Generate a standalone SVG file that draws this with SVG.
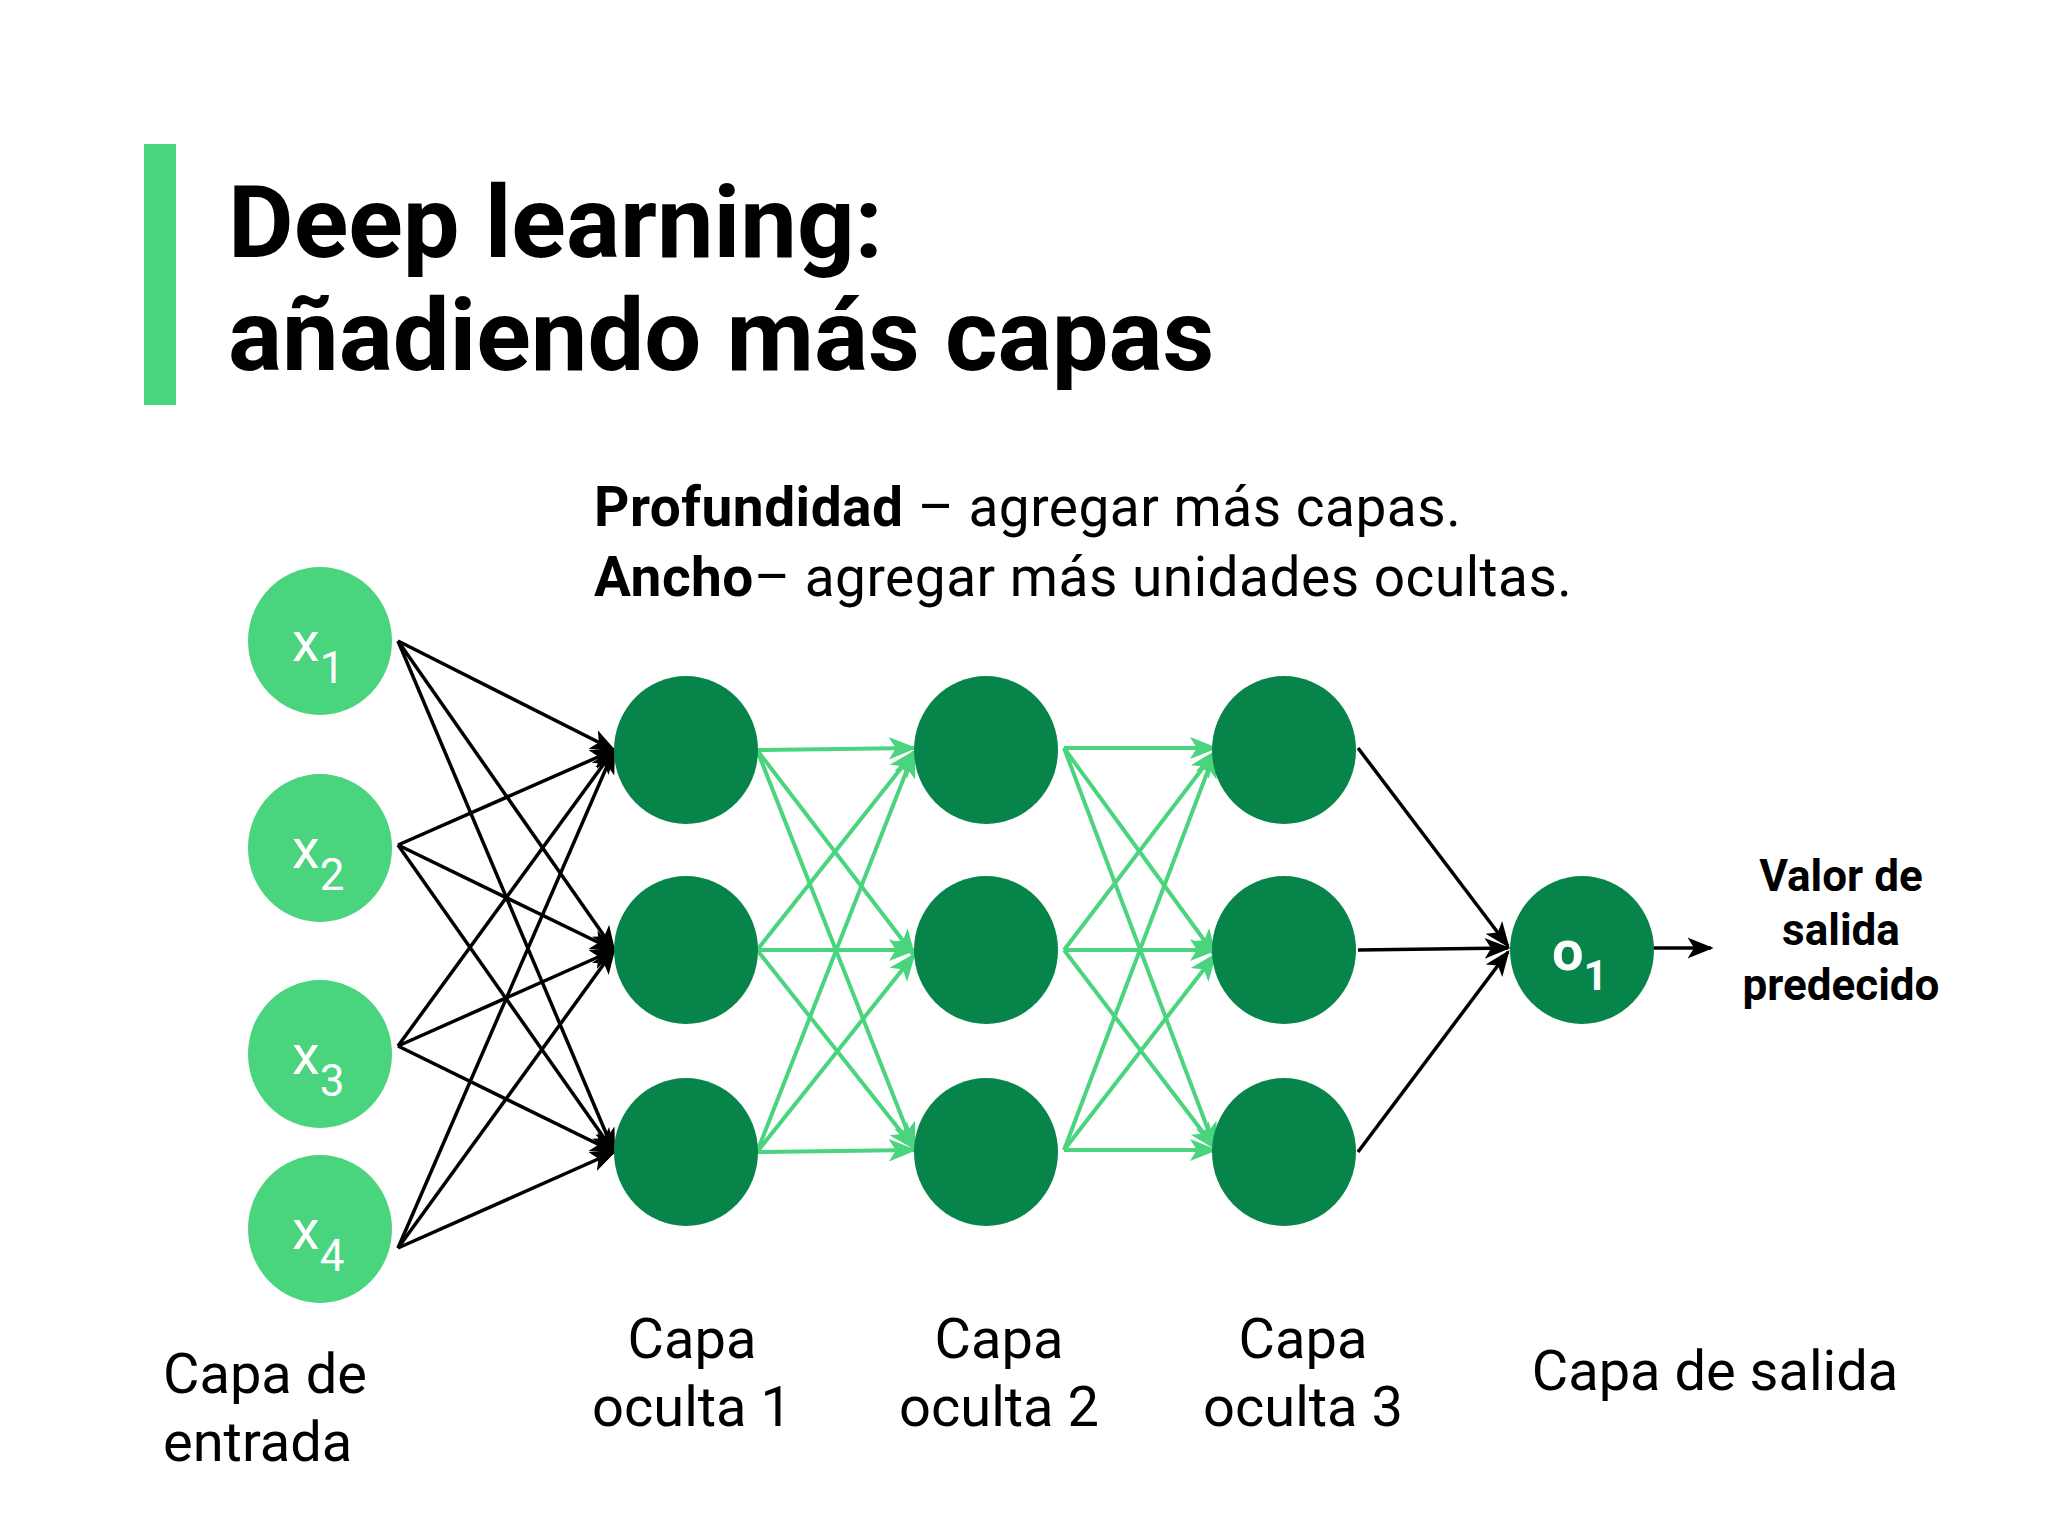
<svg xmlns="http://www.w3.org/2000/svg" width="2048" height="1536" viewBox="0 0 2048 1536">
<defs>
<marker id="abk" viewBox="0 0 10 10" refX="9" refY="5" markerWidth="26" markerHeight="26" markerUnits="userSpaceOnUse" orient="auto"><path d="M0,1L10,5L0,9L2.5,5z" fill="#000"/></marker>
<marker id="agk" viewBox="0 0 10 10" refX="9" refY="5" markerWidth="28" markerHeight="28" markerUnits="userSpaceOnUse" orient="auto"><path d="M0,1L10,5L0,9L2.5,5z" fill="#4ad47e"/></marker>
</defs>
<style>
text{font-family:Roboto,"Liberation Sans",sans-serif}
.in{fill:#4ad47e}.hd{fill:#06844a}
.t{font-size:101px;font-weight:bold;fill:#000}
.s{font-size:55px;fill:#000;letter-spacing:0.5px}
.l{font-size:56px;fill:#000}
.v{font-size:44px;font-weight:bold;fill:#000;text-anchor:middle}
.n{font-size:56px;fill:#fff}
.bk{stroke:#000;stroke-width:3.5;fill:none;marker-end:url(#abk)}
.gr{stroke:#4ad47e;stroke-width:4;fill:none;marker-end:url(#agk)}
</style>
<rect width="2048" height="1536" fill="#fff"/>
<rect x="144" y="144" width="32" height="261" fill="#4ad47e"/>
<text class="t" x="228" y="257">Deep learning:</text>
<text class="t" x="228" y="370">añadiendo más capas</text>
<text class="s" x="594" y="526"><tspan font-weight="bold">Profundidad</tspan> – agregar más capas.</text>
<text class="s" x="594" y="596"><tspan font-weight="bold">Ancho</tspan>– agregar más unidades ocultas.</text>
<g id="connectors">
<line class="bk" x1="398" y1="641" x2="614" y2="750"/><line class="bk" x1="398" y1="641" x2="614" y2="950"/><line class="bk" x1="398" y1="641" x2="614" y2="1152"/>
<line class="bk" x1="398" y1="845" x2="614" y2="750"/><line class="bk" x1="398" y1="845" x2="614" y2="950"/><line class="bk" x1="398" y1="845" x2="614" y2="1152"/>
<line class="bk" x1="398" y1="1046" x2="614" y2="750"/><line class="bk" x1="398" y1="1046" x2="614" y2="950"/><line class="bk" x1="398" y1="1046" x2="614" y2="1152"/>
<line class="bk" x1="398" y1="1248" x2="614" y2="750"/><line class="bk" x1="398" y1="1248" x2="614" y2="950"/><line class="bk" x1="398" y1="1248" x2="614" y2="1152"/>
<line class="gr" x1="757" y1="750" x2="914" y2="748"/><line class="gr" x1="757" y1="750" x2="914" y2="955"/><line class="gr" x1="757" y1="750" x2="914" y2="1148"/>
<line class="gr" x1="757" y1="950" x2="914" y2="752"/><line class="gr" x1="757" y1="950" x2="914" y2="950"/><line class="gr" x1="757" y1="950" x2="914" y2="1148"/>
<line class="gr" x1="757" y1="1152" x2="914" y2="752"/><line class="gr" x1="757" y1="1152" x2="914" y2="955"/><line class="gr" x1="757" y1="1152" x2="914" y2="1150"/>
<line class="gr" x1="1064" y1="748" x2="1215" y2="748"/><line class="gr" x1="1064" y1="748" x2="1215" y2="955"/><line class="gr" x1="1064" y1="748" x2="1215" y2="1148"/>
<line class="gr" x1="1064" y1="950" x2="1215" y2="752"/><line class="gr" x1="1064" y1="950" x2="1215" y2="950"/><line class="gr" x1="1064" y1="950" x2="1215" y2="1148"/>
<line class="gr" x1="1064" y1="1150" x2="1215" y2="752"/><line class="gr" x1="1064" y1="1150" x2="1215" y2="955"/><line class="gr" x1="1064" y1="1150" x2="1215" y2="1150"/>
<line class="bk" x1="1358" y1="748" x2="1508" y2="946"/><line class="bk" x1="1358" y1="950" x2="1508" y2="948"/><line class="bk" x1="1358" y1="1152" x2="1508" y2="952"/>
<line class="bk" x1="1652" y1="948" x2="1711" y2="948"/>
</g>
<g id="x1"><ellipse class="in" cx="320" cy="641" rx="72" ry="74"/><text class="n" x="292" y="661">x<tspan font-size="44" dy="22">1</tspan></text></g>
<g id="x2"><ellipse class="in" cx="320" cy="848" rx="72" ry="74"/><text class="n" x="292" y="868">x<tspan font-size="44" dy="22">2</tspan></text></g>
<g id="x3"><ellipse class="in" cx="320" cy="1054" rx="72" ry="74"/><text class="n" x="292" y="1074">x<tspan font-size="44" dy="22">3</tspan></text></g>
<g id="x4"><ellipse class="in" cx="320" cy="1229" rx="72" ry="74"/><text class="n" x="292" y="1249">x<tspan font-size="44" dy="22">4</tspan></text></g>
<g id="h1"><ellipse class="hd" cx="686" cy="750" rx="72" ry="74"/><ellipse class="hd" cx="686" cy="950" rx="72" ry="74"/><ellipse class="hd" cx="686" cy="1152" rx="72" ry="74"/></g>
<g id="h2"><ellipse class="hd" cx="986" cy="750" rx="72" ry="74"/><ellipse class="hd" cx="986" cy="950" rx="72" ry="74"/><ellipse class="hd" cx="986" cy="1152" rx="72" ry="74"/></g>
<g id="h3"><ellipse class="hd" cx="1284" cy="750" rx="72" ry="74"/><ellipse class="hd" cx="1284" cy="950" rx="72" ry="74"/><ellipse class="hd" cx="1284" cy="1152" rx="72" ry="74"/></g>
<g id="o1"><ellipse class="hd" cx="1582" cy="950" rx="72" ry="74"/><text class="n" x="1552" y="970" font-weight="bold">o<tspan font-size="42" dy="20">1</tspan></text></g>
<g id="labels">
<text class="v" x="1841" y="891">Valor de</text>
<text class="v" x="1841" y="945">salida</text>
<text class="v" x="1841" y="1000">predecido</text>
<text class="l" x="163" y="1393">Capa de</text>
<text class="l" x="163" y="1461">entrada</text>
<text class="l" x="692" y="1358" text-anchor="middle">Capa</text>
<text class="l" x="692" y="1426" text-anchor="middle">oculta 1</text>
<text class="l" x="999" y="1358" text-anchor="middle">Capa</text>
<text class="l" x="999" y="1426" text-anchor="middle">oculta 2</text>
<text class="l" x="1303" y="1358" text-anchor="middle">Capa</text>
<text class="l" x="1303" y="1426" text-anchor="middle">oculta 3</text>
<text class="l" x="1715" y="1390" text-anchor="middle">Capa de salida</text>
</g>
</svg>
